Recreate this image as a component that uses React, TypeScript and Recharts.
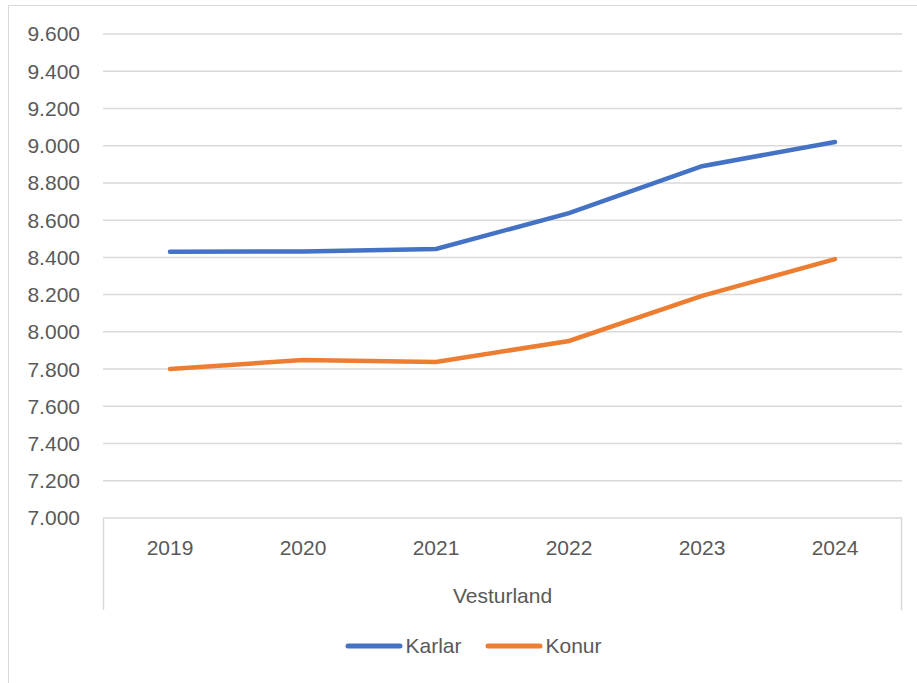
import React from 'react';
import { LineChart, Line, XAxis, YAxis, CartesianGrid, Legend } from 'recharts';

const years = ['2019', '2020', '2021', '2022', '2023', '2024'];
const karlar = [8430, 8432, 8445, 8638, 8890, 9020];
const konur = [7800, 7849, 7838, 7951, 8193, 8391];
const yTicks = [7000, 7200, 7400, 7600, 7800, 8000, 8200, 8400, 8600, 8800, 9000, 9200, 9400, 9600];

const data = years.map((year, i) => ({ year, Karlar: karlar[i], Konur: konur[i] }));

const FONT = '"Liberation Sans", Arial, sans-serif';
const TEXT = '#595959';
const GRID = '#d9d9d9';
const HALF_STEP = 66.5;

const fmt = (v: number) => v.toLocaleString('de-DE', { minimumFractionDigits: 0 }).replace(/,/g, '.');

const YearTick = (props: any) => {
  const { x, y, payload, index, visibleTicksCount } = props;
  return (
    <g>
      <text x={x} y={y + 37} textAnchor="middle" fill={TEXT} fontSize={21} fontFamily={FONT}>
        {payload.value}
      </text>
      {index === 0 && <line x1={x - HALF_STEP} x2={x - HALF_STEP} y1={y} y2={y + 92} stroke={GRID} strokeWidth={1.5} />}
      {index === visibleTicksCount - 1 && (
        <line x1={x + HALF_STEP} x2={x + HALF_STEP} y1={y} y2={y + 92} stroke={GRID} strokeWidth={1.5} />
      )}
    </g>
  );
};

const LegendContent = (props: any) => {
  const items = props.payload || [];
  return (
    <div style={{ display: 'flex', justifyContent: 'center', gap: 24, fontFamily: FONT, fontSize: 21, color: TEXT }}>
      {items.map((it: any) => (
        <div key={it.value} style={{ display: 'flex', alignItems: 'center' }}>
          <svg width={58} height={10}>
            <line x1={3} x2={55} y1={5} y2={5} stroke={it.color} strokeWidth={5} strokeLinecap="round" />
          </svg>
          <span style={{ marginLeft: 2 }}>{it.value}</span>
        </div>
      ))}
    </div>
  );
};

export default function App() {
  return (
    <div style={{ position: 'absolute', left: 0, top: 0, width: 917, height: 683, overflow: 'hidden', background: '#fff' }}>
      <div style={{ position: 'absolute', left: 8, top: 5, width: 930, height: 700, border: `1.5px solid ${GRID}` }} />
      <LineChart width={917} height={683} data={data} margin={{ top: 34, right: 15, left: 0, bottom: 73 }}>
        <CartesianGrid vertical={false} stroke={GRID} strokeWidth={1.5} />
        <XAxis
          dataKey="year"
          height={92}
          axisLine={false}
          tickLine={false}
          tickSize={0}
          tickMargin={0}
          padding={{ left: 67, right: 67 }}
          tick={<YearTick />}
          interval={0}
          label={{ value: 'Vesturland', position: 'insideBottom', offset: 7, fill: TEXT, fontSize: 21, fontFamily: FONT }}
        />
        <YAxis
          domain={[7000, 9600]}
          ticks={yTicks}
          width={103}
          axisLine={false}
          tickLine={false}
          tickSize={0}
          tickMargin={23}
          tickFormatter={fmt}
          tick={{ fill: TEXT, fontSize: 21, fontFamily: FONT }}
        />
        <Legend verticalAlign="middle" wrapperStyle={{ top: 634, left: 15, width: 917 }} content={<LegendContent />} />
        <Line dataKey="Karlar" stroke="#4472C4" strokeWidth={4.5} dot={false} strokeLinecap="round" isAnimationActive={false} />
        <Line dataKey="Konur" stroke="#ED7D31" strokeWidth={4.5} dot={false} strokeLinecap="round" isAnimationActive={false} />
      </LineChart>
    </div>
  );
}
